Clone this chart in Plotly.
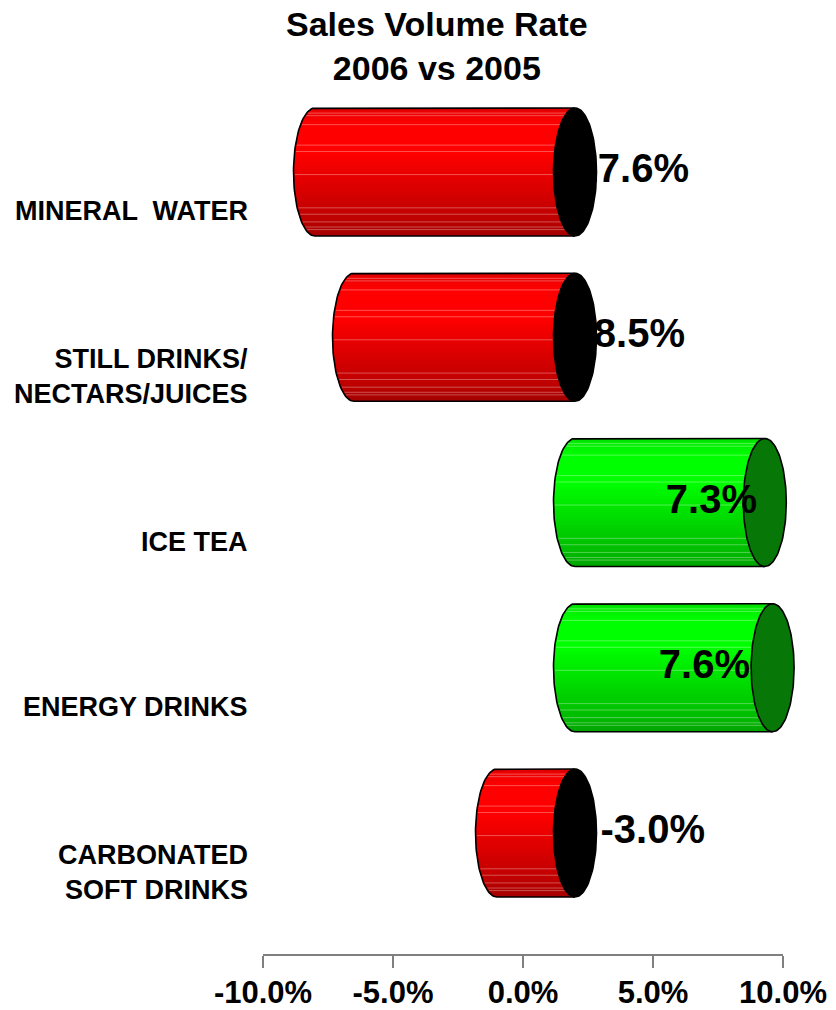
import numpy as np
import plotly.graph_objects as go

# ---- data ----
categories = ["MINERAL  WATER", "STILL DRINKS/<br>NECTARS/JUICES", "ICE TEA",
              "ENERGY DRINKS", "CARBONATED<br>SOFT DRINKS"]
volume_change_pct = [-17.6, -8.5, 7.3, 7.6, -3.0]
axis_ticks = [-10, -5, 0, 5, 10]
axis_tick_labels = ["-10.0%", "-5.0%", "0.0%", "5.0%", "10.0%"]
axis_limits = [-10, 10]

# ---- layout geometry (pixels) ----
W, H = 836, 1010
PX_PER_PCT = 26.0          # horizontal scale, both for the axis and the cylinders
BAR_ZERO_PX = 575          # 0% for the recessed cylinders (3-D depth shift)
AXIS_ZERO_PX = 523         # 0% on the front value axis
ROW0_PX = 172              # centre of the first cylinder
ROW_STEP_PX = 165.25
HALF_H_PX = 64             # cylinder radius (vertical)
CAP_RX_PX = 21.5           # horizontal semi-axis of the end ellipses
AXIS_Y_PX = 954
LABEL_RIGHT_PX = [689, 685, 757, 750, 705]   # right edge of each value label
CAT_LABEL_RIGHT_PX = 250
CAT_LABEL_DROP_PX = 39

FONT = "Liberation Sans, Arial, Helvetica, sans-serif"

# shading of the cylinder body, top (0) to bottom (1)
SHADE_POS = [0.0, 0.04, 0.15, 0.35, 0.55, 0.75, 0.90, 1.0]
SHADE_VAL = [0.86, 0.93, 1.0, 1.0, 0.90, 0.80, 0.73, 0.64]
SHEEN_LINES = [0.04, 0.06, 0.13, 0.29, 0.34, 0.52, 0.78, 0.83, 0.89, 0.93, 0.95]
N_STRIPS = 40


def px_to_x(px):
    return (px - BAR_ZERO_PX) / PX_PER_PCT


a = CAP_RX_PX / PX_PER_PCT      # ellipse semi-axis in % units
b = HALF_H_PX / ROW_STEP_PX     # radius in row units


def body_color(f, negative):
    v = int(round(255 * np.interp(f, SHADE_POS, SHADE_VAL)))
    return f"rgb({v},0,0)" if negative else f"rgb(0,{v},0)"


def left_edge(x0, dy):
    return x0 - a * np.sqrt(max(0.0, 1 - (dy / b) ** 2))


fig = go.Figure()
shapes = []
caps = []
neg_labels = []
pos_labels = []

for i, (cat, val) in enumerate(zip(categories, volume_change_pct)):
    shown = float(np.clip(val, *axis_limits))
    x0, x1 = min(0.0, shown), max(0.0, shown)
    negative = val < 0
    yc = i

    # body strips with vertical shading
    for k in range(N_STRIPS):
        f0 = k / N_STRIPS
        f1 = min(1.0, (k + 1.4) / N_STRIPS)
        ys = np.linspace(yc - b + 2 * b * f0, yc - b + 2 * b * f1, 4)
        pts = [(left_edge(x0, y - yc), y) for y in ys]
        path = f"M {x1},{ys[0]} " + " ".join(f"L {x},{y}" for x, y in pts) + f" L {x1},{ys[-1]} Z"
        shapes.append(dict(type="path", path=path, xref="x", yref="y", layer="below",
                           fillcolor=body_color((f0 + f1) / 2, negative),
                           line=dict(width=0)))
    # thin highlight lines
    for f in SHEEN_LINES:
        y = yc - b + 2 * b * f
        shapes.append(dict(type="line", xref="x", yref="y", layer="below",
                           x0=left_edge(x0, y - yc) + 0.05, x1=x1, y0=y, y1=y,
                           line=dict(color="rgba(255,255,255,0.32)", width=1)))

    # body outline: top edge, back half-ellipse, bottom edge
    th = np.linspace(np.pi / 2, 3 * np.pi / 2, 60)
    ox = [x1] + list(x0 + a * np.cos(th)) + [x1]
    oy = [yc - b] + list(yc - b * np.sin(th)) + [yc + b]
    fig.add_trace(go.Scatter(x=ox, y=oy, mode="lines", line=dict(color="black", width=1.6),
                             hoverinfo="skip", showlegend=False))

    # front end cap
    t = np.linspace(0, 2 * np.pi, 120)
    caps.append(go.Scatter(x=x1 + a * np.cos(t), y=yc + b * np.sin(t), mode="lines",
                           fill="toself", fillcolor="black" if negative else "#077707",
                           line=dict(color="black", width=1.6),
                           hoverinfo="skip", showlegend=False))

    lab = go.Scatter(x=[px_to_x(LABEL_RIGHT_PX[i])], y=[yc], mode="text",
                     text=[f"{val:.1f}%"], textposition="middle left",
                     textfont=dict(family=FONT, size=40, color="black", weight="bold"),
                     cliponaxis=False, hoverinfo="skip", showlegend=False)
    (neg_labels if negative else pos_labels).append(lab)

    # category label at the front of the row
    fig.add_annotation(text=cat, xref="paper", yref="y", x=CAT_LABEL_RIGHT_PX / W,
                       y=yc + CAT_LABEL_DROP_PX / ROW_STEP_PX, xanchor="right", yanchor="middle",
                       align="right", showarrow=False,
                       font=dict(family=FONT, size=27, color="black", weight="bold"))

# labels of falling segments sit behind the caps, rising ones in front
for tr in neg_labels + caps + pos_labels:
    fig.add_trace(tr)

# front value axis
fig.add_trace(go.Scatter(x=axis_ticks, y=[0] * len(axis_ticks), xaxis="x2", yaxis="y2",
                         mode="markers", marker=dict(opacity=0), hoverinfo="skip",
                         showlegend=False))

axis_left = (AXIS_ZERO_PX + axis_limits[0] * PX_PER_PCT) / W
axis_right = (AXIS_ZERO_PX + axis_limits[1] * PX_PER_PCT) / W
axis_y = 1 - AXIS_Y_PX / H

fig.update_layout(
    width=W, height=H,
    margin=dict(l=0, r=0, t=0, b=0, autoexpand=False),
    paper_bgcolor="white", plot_bgcolor="rgba(0,0,0,0)",
    shapes=shapes,
    xaxis=dict(domain=[0, 1], range=[px_to_x(0), px_to_x(W)], visible=False,
               fixedrange=True, automargin=False),
    yaxis=dict(domain=[0, 1], range=[(H - ROW0_PX) / ROW_STEP_PX, -ROW0_PX / ROW_STEP_PX],
               visible=False, fixedrange=True, automargin=False),
    xaxis2=dict(domain=[axis_left, axis_right], range=axis_limits, anchor="y2",
                tickvals=axis_ticks, ticktext=axis_tick_labels, ticks="outside",
                ticklen=12, tickwidth=1.5, tickcolor="#808080", showline=True,
                linecolor="#808080", linewidth=1.5, showgrid=False, zeroline=False,
                automargin=False, fixedrange=True, ticklabelstandoff=-2,
                tickfont=dict(family=FONT, size=31, color="black", weight="bold")),
    yaxis2=dict(domain=[axis_y, axis_y + 0.01], anchor="x2", visible=False, range=[0, 1],
                automargin=False, fixedrange=True),
    showlegend=False,
)

fig.add_annotation(text="Sales Volume Rate<br>2006 vs 2005", xref="paper", yref="paper",
                   x=437 / W, y=1 - 46 / H, xanchor="center", yanchor="middle",
                   showarrow=False,
                   font=dict(family=FONT, size=34, color="black", weight="bold"))

fig.write_html("out.html")
